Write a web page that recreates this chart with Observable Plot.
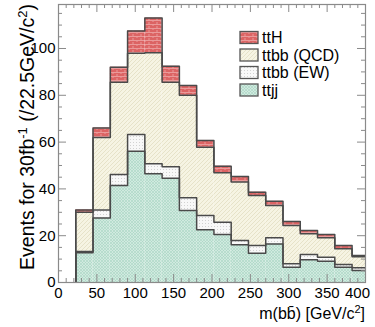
<!DOCTYPE html>
<html><head><meta charset="utf-8">
<script src="https://cdn.jsdelivr.net/npm/d3@7"></script>
<script src="https://cdn.jsdelivr.net/npm/@observablehq/plot@0.6"></script>
<style>
body{margin:0;background:#fff}
#c{position:relative;width:375px;height:327px}
</style>
</head><body><div id="c"></div>
<script>
// bin low edges (GeV/c^2), bin width 22.5
const binLow = [22.5,45,67.5,90,112.5,135,157.5,180,202.5,225,247.5,270,292.5,315,337.5,360,382.5];
const binWidth = 22.5;
// per-component (stacked) event counts
const ttjj    = [12.7,27.6,41.5,56.1,46.5,44.5,30.8,22.5,20.5,16.1,12.5,16.5,6.5,9.7,9.1,6.5,5.1];
const ttbbEW  = [0.6,3.4,4.7,7.1,4.2,5.0,5.4,6.1,5.3,1.8,3.3,2.6,1.5,2.3,1.7,1.2,1.2];
const ttbbQCD = [16.7,31.0,39.4,34.8,47.5,36.1,43.8,29.2,21.1,25.0,21.4,13.8,16.4,8.8,8.3,6.7,4.7];
const ttH     = [1.0,4.0,6.4,9.5,14.8,6.8,4.2,2.9,2.8,2.4,1.4,1.8,1.7,1.4,1.4,1.4,0.5];
const seriesNames = ["ttjj","ttbb (EW)","ttbb (QCD)","ttH"];      // stacking order (bottom→top)
const legendNames = ["ttH","ttbb (QCD)","ttbb (EW)","ttjj"];
const xTickLabels = [0,50,100,150,200,250,300,350,400];
const yTickLabels = [0,20,40,60,80,100];

const seriesValues = {"ttjj": ttjj, "ttbb (EW)": ttbbEW, "ttbb (QCD)": ttbbQCD, "ttH": ttH};
const patternIds = {"ttjj":"p-ttjj","ttbb (EW)":"p-ew","ttbb (QCD)":"p-qcd","ttH":"p-tth"};

const rows = binLow.flatMap((lo, i) => seriesNames.map(s => ({x1: lo, x2: lo + binWidth, value: seriesValues[s][i], series: s})));

// step outlines of each cumulative layer (ROOT-style histogram outline)
const cum = {};
seriesNames.forEach((s, k) => {
  cum[s] = binLow.map((_, i) => d3.sum(seriesNames.slice(0, k + 1), t => seriesValues[t][i]));
});
const outline = seriesNames.flatMap(s => {
  const pts = [{x: binLow[0], y: 0, series: s}];
  binLow.forEach((lo, i) => {
    pts.push({x: lo, y: cum[s][i], series: s});
    pts.push({x: lo + binWidth, y: cum[s][i], series: s});
  });
  pts.push({x: binLow[binLow.length - 1] + binWidth, y: 0, series: s});
  return pts;
});

const xMinor = d3.range(0, 401, 10).filter(v => v % 50 !== 0);
const yMinor = d3.range(0, 119, 5).filter(v => v % 20 !== 0);

const W = 375, H = 327, mL = 58, mR = 10, mT = 4, mB = 45;
const fw = W - mL - mR, fh = H - mT - mB;
const tickCol = "#8a8a8a";
const font = "'Liberation Sans', Arial, sans-serif";

const chart = Plot.plot({
  width: W, height: H,
  marginLeft: mL, marginRight: mR, marginTop: mT, marginBottom: mB,
  style: {fontFamily: font, fontSize: "15px", color: "#000", background: "#fff", overflow: "visible"},
  x: {domain: [0, 400]},
  y: {domain: [0, 118.8]},
  color: {type: "ordinal", domain: seriesNames, range: seriesNames.map(s => `url(#${patternIds[s]})`)},
  marks: [
    Plot.rectY(rows, {x1: "x1", x2: "x2", y: "value", fill: "series", inset: 0, clip: true}),
    Plot.line(outline, {x: "x", y: "y", z: "series", stroke: "#4a4a4a", strokeWidth: 1.5, clip: true}),
    // ROOT-style inward ticks on all four sides
    Plot.ruleX(xTickLabels, {x: d => d, insetTop: fh - 8, stroke: tickCol}),
    Plot.ruleX(xTickLabels, {x: d => d, insetBottom: fh - 8, stroke: tickCol}),
    Plot.ruleX(xMinor, {x: d => d, insetTop: fh - 4, stroke: tickCol}),
    Plot.ruleX(xMinor, {x: d => d, insetBottom: fh - 4, stroke: tickCol}),
    Plot.ruleY(yTickLabels, {y: d => d, insetRight: fw - 8, stroke: tickCol}),
    Plot.ruleY(yTickLabels, {y: d => d, insetLeft: fw - 8, stroke: tickCol}),
    Plot.ruleY(yMinor, {y: d => d, insetRight: fw - 4, stroke: tickCol}),
    Plot.ruleY(yMinor, {y: d => d, insetLeft: fw - 4, stroke: tickCol}),
    Plot.frame({stroke: tickCol, strokeWidth: 1.2}),
    Plot.axisX({ticks: xTickLabels.slice(0, -1), tickSize: 0, tickPadding: 5, label: null, fontSize: 15}),
    Plot.axisX({ticks: xTickLabels.slice(-1), tickSize: 0, tickPadding: 5, label: null, fontSize: 15, dx: -8}),
    Plot.axisY({ticks: yTickLabels, tickSize: 0, tickPadding: 3, label: null, fontSize: 15})
  ]
});

const svg = d3.select(chart);
const defs = svg.insert("defs", ":first-child");
// ttH: red brick
let p = defs.append("pattern").attr("id", "p-tth").attr("patternUnits", "userSpaceOnUse").attr("width", 8).attr("height", 4);
p.append("rect").attr("width", 8).attr("height", 4).attr("fill", "#dc6464");
p.append("path").attr("d", "M0,0.5H8M1,0V2M5,2V4").attr("stroke", "#ea9a9a").attr("stroke-width", 1);
// ttbb QCD: pale beige, diagonal hatching
p = defs.append("pattern").attr("id", "p-qcd").attr("patternUnits", "userSpaceOnUse").attr("width", 4).attr("height", 4);
p.append("rect").attr("width", 4).attr("height", 4).attr("fill", "#f6f4e3");
p.append("path").attr("d", "M0,4L4,0M-1,1L1,-1M3,5L5,3").attr("stroke", "#e2ddc2").attr("stroke-width", 0.8);
// ttbb EW: white with dots
p = defs.append("pattern").attr("id", "p-ew").attr("patternUnits", "userSpaceOnUse").attr("width", 3).attr("height", 3);
p.append("rect").attr("width", 3).attr("height", 3).attr("fill", "#f8f8f8");
p.append("rect").attr("x", 1).attr("y", 1).attr("width", 1).attr("height", 1).attr("fill", "#d2d2d2");
// ttjj: light teal crosshatch
p = defs.append("pattern").attr("id", "p-ttjj").attr("patternUnits", "userSpaceOnUse").attr("width", 3).attr("height", 3);
p.append("rect").attr("width", 3).attr("height", 3).attr("fill", "#d0eadf");
p.append("path").attr("d", "M0,3L3,0M0,0L3,3").attr("stroke", "#a8d4c2").attr("stroke-width", 0.6);

// Legend (top right, inside frame)
const lg = svg.append("g").attr("font-family", font).attr("font-size", 16).attr("text-anchor", "start");
legendNames.forEach((name, i) => {
  const y0 = 31.5 + i * 17.5;
  lg.append("rect").attr("x", 240).attr("y", y0).attr("width", 18).attr("height", 12)
    .attr("fill", `url(#${patternIds[name]})`).attr("stroke", "#555").attr("stroke-width", 1.3);
  lg.append("text").attr("x", 262).attr("y", y0 + 6).attr("dy", "0.36em").attr("fill", "#000").text(name);
});

// Axis titles
const xt = svg.append("text").attr("x", 365).attr("y", 319).attr("text-anchor", "end")
  .attr("font-family", font).attr("font-size", 16).attr("fill", "#000");
xt.append("tspan").text("m(bb\u0304) [GeV/c");
xt.append("tspan").attr("dy", -6).attr("font-size", 11).text("2");
xt.append("tspan").attr("dy", 6).text("]");

const yt = svg.append("text").attr("transform", "translate(34,4) rotate(-90)").attr("text-anchor", "end")
  .attr("font-family", font).attr("font-size", 19.5).attr("fill", "#000");
yt.append("tspan").text("Events for 30fb");
yt.append("tspan").attr("dy", -7).attr("font-size", 13).text("-1");
yt.append("tspan").attr("dy", 7).text(" (/22.5GeV/c");
yt.append("tspan").attr("dy", -7).attr("font-size", 13).text("2");
yt.append("tspan").attr("dy", 7).text(")");

document.getElementById("c").appendChild(chart);
</script>
</body></html>
